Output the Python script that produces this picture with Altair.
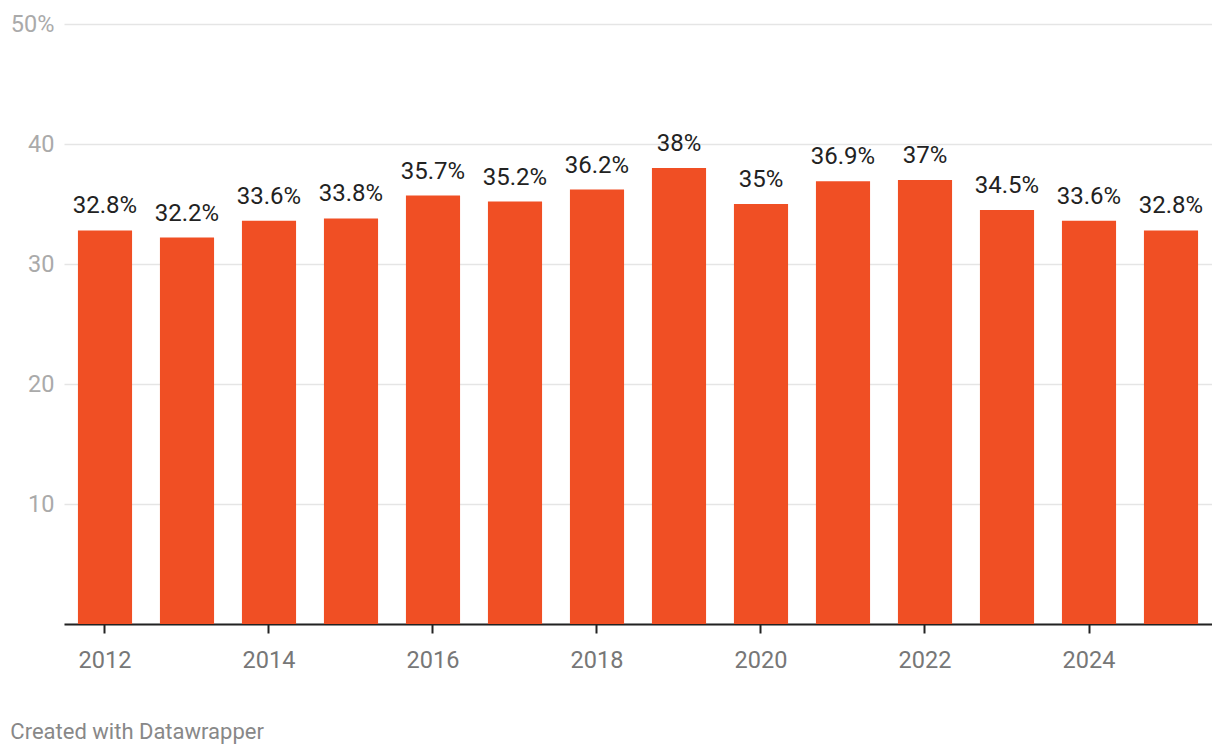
import altair as alt
import pandas as pd

years = [2012, 2013, 2014, 2015, 2016, 2017, 2018, 2019, 2020, 2021, 2022, 2023, 2024, 2025]
shares = [32.8, 32.2, 33.6, 33.8, 35.7, 35.2, 36.2, 38, 35, 36.9, 37, 34.5, 33.6, 32.8]
x_tick_years = [2012, 2014, 2016, 2018, 2020, 2022, 2024]
y_ticks = [0, 10, 20, 30, 40, 50]

df = pd.DataFrame({"year": years, "share": shares})

FONT = "Roboto"
BAR = "#f04f24"

x_enc = alt.X(
    "year:O",
    scale=alt.Scale(paddingInner=0.34, paddingOuter=0.17),
    axis=alt.Axis(
        title=None,
        values=x_tick_years,
        labelAngle=0,
        labelFont=FONT,
        labelFontSize=23.5,
        labelColor="#777777",
        labelPadding=15,
        domainColor="#222222",
        domainWidth=2,
        tickColor="#222222",
        tickWidth=2,
        tickSize=9,
        grid=False,
    ),
)

y_enc = alt.Y(
    "share:Q",
    scale=alt.Scale(domain=[0, 50], nice=False),
    axis=alt.Axis(
        title=None,
        values=y_ticks,
        labelExpr="datum.value == 50 ? '50%' : (datum.value == 0 ? '' : datum.label)",
        labelFont=FONT,
        labelFontSize=23.5,
        labelColor="#aaaaaa",
        labelPadding=10,
        labelBaseline="middle",
        domain=False,
        ticks=False,
        grid=True,
        gridColor="#e5e5e5",
        gridWidth=1.5,
    ),
)

bars = alt.Chart(df).mark_bar(color=BAR).encode(x=x_enc, y=y_enc)

labels = (
    alt.Chart(df)
    .transform_calculate(label="format(datum.share, '~g') + '%'")
    .mark_text(
        font=FONT,
        fontSize=24,
        color="#222222",
        baseline="alphabetic",
        dy=-17,
    )
    .encode(x=alt.X("year:O"), y=alt.Y("share:Q"), text="label:N")
)

chart = (
    alt.layer(bars, labels)
    .properties(
        width=1148,
        height=600,
        background="white",
        autosize=alt.AutoSizeParams(type="none"),
        padding={"left": 56, "top": 16, "right": 0, "bottom": 120},
        title=alt.TitleParams(
            "Created with Datawrapper",
            orient="bottom",
            anchor="start",
            font=FONT,
            fontSize=22,
            fontWeight="normal",
            color="#888888",
            offset=50,
        ),
    )
    .configure_view(strokeWidth=0, stroke="transparent")
)

chart.save("out.html", embed_options={"renderer": "svg", "actions": False})
